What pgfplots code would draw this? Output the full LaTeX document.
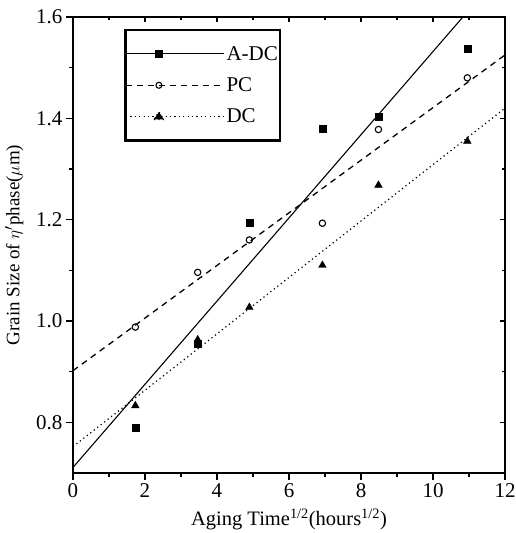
\documentclass[border=0pt]{standalone}
\usepackage{pgfplots}
\pgfplotsset{compat=1.18}
\usepackage{fontspec}
\setmainfont{Liberation Serif}
\begin{document}
\begin{tikzpicture}
\path[use as bounding box] (-73pt,-60pt) rectangle (443pt,473pt);
\pgfplotsset{
  common/.style={
    scale only axis, width=432pt, height=456pt,
    at={(0pt,0pt)}, anchor=south west,
    xmin=0, xmax=12, ymin=0.7, ymax=1.6,
    xtick={0,2,...,12}, ytick={0.8,1.0,...,1.61},
    minor x tick num=1, minor y tick num=1,
    axis line style={line width=1.6pt},
    major tick length=7pt, minor tick length=4pt,
    tick style={line width=1.2pt, black},
  }
}
\begin{axis}[common,
  xtick pos=bottom, ytick pos=left, tick align=outside,
  /pgf/number format/assume math mode=true,
  xticklabel style={font=\fontsize{21}{22}\selectfont},
  yticklabel style={font=\fontsize{21}{22}\selectfont, /pgf/number format/.cd, fixed, fixed zerofill, precision=1},
  xlabel={Aging Time\textsuperscript{1/2}(hours\textsuperscript{1/2})},
  ylabel={Grain Size of $\eta'$phase($\mu$m)},
  xlabel style={font=\fontsize{20.5}{22}\selectfont, yshift=-4pt},
  ylabel style={font=\fontsize{19}{22}\selectfont, yshift=6pt},
  legend style={at={(0.118,0.974)}, anchor=north west, draw=black, line width=2.6pt,
    font=\fontsize{21}{23}\selectfont, row sep=12pt, inner xsep=0pt, inner ysep=14pt,
    cells={anchor=west}},
  legend cell align=left,
]
% data points
\addplot[only marks, mark=square*, mark size=3.5pt, black, forget plot] coordinates {
(1.732,0.790) (3.464,0.955) (4.899,1.195) (6.928,1.380) (8.485,1.403) (10.954,1.538)};
\addplot[only marks, mark=o, mark size=3.2pt, black, line width=1.1pt, forget plot] coordinates {
(1.732,0.988) (3.464,1.096) (4.899,1.160) (6.928,1.193) (8.485,1.378) (10.954,1.480)};
\addplot[only marks, mark=triangle*, mark size=4.4pt, black, forget plot] coordinates {
(1.732,0.833) (3.464,0.963) (4.899,1.027) (6.928,1.110) (8.485,1.268) (10.954,1.355)};
% fitted lines
\addplot[black, line width=1.1pt,
  legend image code/.code={\draw[black, line width=1.1pt] (0pt,0pt) -- (66pt,0pt);
    \fill[black] (30pt,-3.2pt) rectangle (36.4pt,3.2pt);
    \path (0pt,0pt) -- (98pt,0pt);}]
  coordinates {(0,0.711) (12,1.696)};
\addlegendentry{A-DC\hspace{1pt}}
\addplot[black, line width=1.3pt, dash pattern=on 6pt off 5pt,
  legend image code/.code={\draw[black, line width=1.3pt, dash pattern=on 6pt off 5pt] (0pt,0pt) -- (66pt,0pt);
    \draw[black, line width=1.1pt, fill=white, solid] (33pt,0pt) circle (3pt);
    \path (0pt,0pt) -- (98pt,0pt);}]
  coordinates {(0,0.902) (12,1.525)};
\addlegendentry{PC}
\addplot[black, line width=1.2pt, dash pattern=on 1.2pt off 3.2pt,
  legend image code/.code={\draw[black, line width=1.2pt, dash pattern=on 1.2pt off 3.2pt] (0pt,0pt) -- (66pt,0pt);
    \fill[black] (28pt,-2.8pt) -- (38pt,-2.8pt) -- (33pt,4.8pt) -- cycle;
    \path (0pt,0pt) -- (98pt,0pt);}]
  coordinates {(0,0.752) (12,1.420)};
\addlegendentry{DC}
\end{axis}
\begin{axis}[common,
  xtick pos=top, ytick pos=right, tick align=inside,
  xticklabels={}, yticklabels={},
  major tick length=5pt, minor tick length=3pt,
]
\end{axis}
\end{tikzpicture}
\end{document}
